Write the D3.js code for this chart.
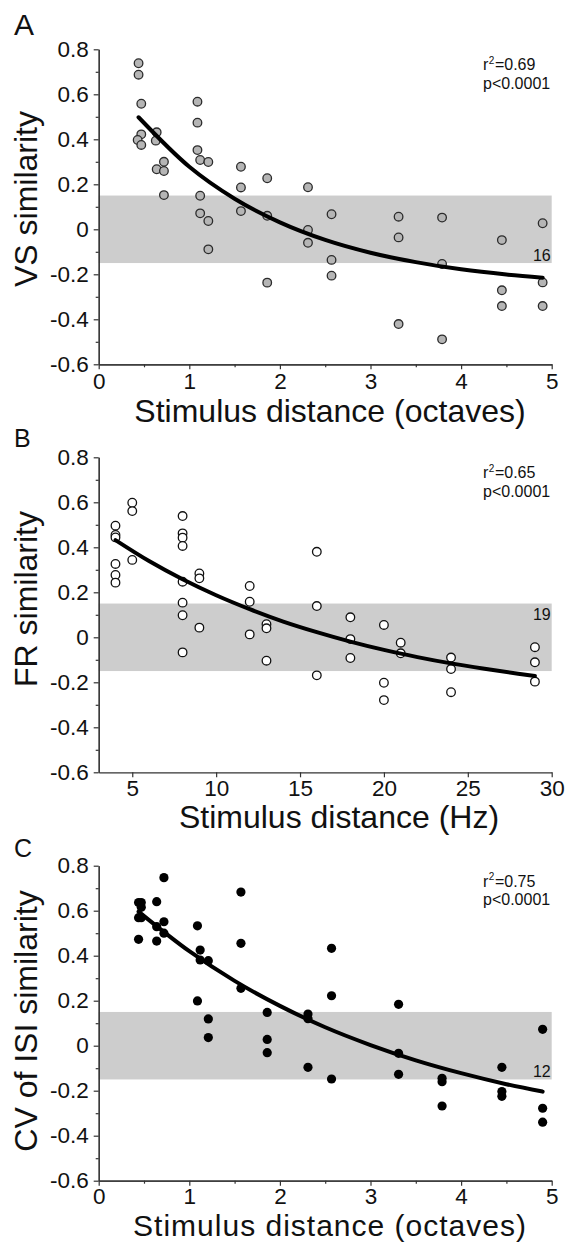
<!DOCTYPE html>
<html>
<head>
<meta charset="utf-8">
<script src="https://cdn.jsdelivr.net/npm/d3@7"></script>
<style>
html, body { margin: 0; padding: 0; background: #fff; }
svg { display: block; font-family: "Liberation Sans", Arial, sans-serif; }
</style>
</head>
<body>
<div id="chart"></div>
<script>
(function () {
'use strict';

// ---- data ----
// Panel A: VS similarity vs stimulus distance (octaves)
const aX = [0.44,0.44,0.47,0.47,0.43,0.47,0.64,0.63,0.72,0.64,0.72,0.72,
            1.09,1.09,1.09,1.12,1.21,1.12,1.12,1.21,1.21,
            1.57,1.57,1.57,1.86,1.86,1.86,2.31,2.31,2.31,2.57,2.57,2.57,
            3.31,3.31,3.31,3.79,3.79,3.79,4.45,4.45,4.45,4.9,4.9,4.9];
const aY = [0.738,0.687,0.558,0.422,0.397,0.375,0.431,0.394,0.300,0.267,0.259,0.152,
            0.567,0.474,0.352,0.308,0.299,0.149,0.071,0.037,-0.089,
            0.278,0.186,0.081,0.227,0.060,-0.237,0.187,-0.003,-0.060,0.067,-0.136,-0.206,
            0.056,-0.036,-0.421,0.052,-0.154,-0.489,-0.048,-0.271,-0.341,0.027,-0.236,-0.341];
const aFitX = [0.44, 1.0, 1.5, 2.0, 2.5, 3.0, 3.5, 4.0, 4.5, 4.9];
const aFitY = [0.498, 0.278, 0.136, 0.031, -0.047, -0.104, -0.146, -0.178, -0.201, -0.215];

// Panel B: FR similarity vs stimulus distance (Hz)
const bX = [4,4,4,4,4,4, 5,5,5, 8,8,8,8,8,8,8,8, 9,9,9, 12,12,12, 13,13,13,
            16,16,16, 18,18,18, 20,20,20, 21,21, 24,24,24, 29,29,29];
const bY = [0.496,0.455,0.444,0.326,0.277,0.243, 0.598,0.561,0.344,
            0.539,0.462,0.443,0.406,0.247,0.154,0.098,-0.067,
            0.284,0.262,0.043, 0.228,0.158,0.013, 0.058,0.040,-0.104,
            0.380,0.139,-0.169, 0.089,-0.008,-0.092, 0.055,-0.202,-0.279,
            -0.024,-0.071, -0.090,-0.141,-0.244, -0.044,-0.111,-0.197];
const bFitX = [4, 6, 8, 10, 12, 14, 16, 18, 20, 22, 24, 26, 28, 29];
const bFitY = [0.432, 0.339, 0.258, 0.187, 0.125, 0.070, 0.023, -0.019, -0.056, -0.088, -0.116, -0.140, -0.162, -0.172];

// Panel C: CV of ISI similarity vs stimulus distance (octaves)
const cX = [0.44,0.44,0.44, 0.47,0.47,0.47, 0.64,0.64,0.64, 0.72,0.72,0.72,
            1.09,1.09, 1.12,1.12, 1.21,1.21,1.21, 1.57,1.57,1.57, 1.86,1.86,1.86,
            2.31,2.31,2.31, 2.57,2.57,2.57, 3.31,3.31,3.31, 3.79,3.79,3.79,
            4.45,4.45,4.45, 4.9,4.9,4.9];
const cY = [0.636,0.569,0.473, 0.636,0.615,0.569, 0.640,0.529,0.465, 0.747,0.551,0.500,
            0.533,0.199, 0.425,0.381, 0.378,0.119,0.036, 0.683,0.455,0.255, 0.148,0.028,-0.031,
            0.141,0.120,-0.096, 0.433,0.222,-0.148, 0.184,-0.034,-0.127, -0.145,-0.160,-0.268,
            -0.096,-0.204,-0.225, 0.073,-0.278,-0.340];
const cFitX = [0.44, 1.0, 1.5, 2.0, 2.5, 3.0, 3.5, 4.0, 4.5, 4.9];
const cFitY = [0.596, 0.420, 0.288, 0.177, 0.082, 0.003, -0.065, -0.122, -0.171, -0.204];

// ticks
const yTickVals = [-0.6, -0.4, -0.2, 0, 0.2, 0.4, 0.6, 0.8];
const yTickLabels = ["-0.6", "-0.4", "-0.2", "0", "0.2", "0.4", "0.6", "0.8"];
const yMinorVals = [-0.5, -0.3, -0.1, 0.1, 0.3, 0.5, 0.7];
const octTicks = [0, 1, 2, 3, 4, 5];
const octMinor = [0.5, 1.5, 2.5, 3.5, 4.5];
const hzTicks = [5, 10, 15, 20, 25, 30];
const bandLimits = [-0.15, 0.15];

const panels = [
  { letter: "A", top: 49.3, letterY: 35, letterSize: 30,
    xDomain: [0, 5], xTicks: octTicks, xMinor: octMinor, xPad: 4,
    xs: aX, ys: aY, fx: aFitX, fy: aFitY, kind: "gray",
    yTitle: "VS similarity", yTitleY: 199,
    xTitle: "Stimulus distance (octaves)", xTitleX: 330, xTitleDy: 58, xTitleSize: 32, xTitleLs: 0,
    r2: "0.69", n: "16", nAtTop: false },
  { letter: "B", top: 457.3, letterY: 447, letterSize: 25,
    xDomain: [3, 30], xTicks: hzTicks, xMinor: [], xPad: 3,
    xs: bX, ys: bY, fx: bFitX, fy: bFitY, kind: "open",
    yTitle: "FR similarity", yTitleY: 599,
    xTitle: "Stimulus distance (Hz)", xTitleX: 339, xTitleDy: 56, xTitleSize: 32, xTitleLs: 0,
    r2: "0.65", n: "19", nAtTop: true },
  { letter: "C", top: 865.7, letterY: 857, letterSize: 25,
    xDomain: [0, 5], xTicks: octTicks, xMinor: octMinor, xPad: 2,
    xs: cX, ys: cY, fx: cFitX, fy: cFitY, kind: "filled",
    yTitle: "CV of ISI similarity", yTitleY: 1021,
    xTitle: "Stimulus distance (octaves)", xTitleX: 330, xTitleDy: 55, xTitleSize: 30, xTitleLs: 1,
    r2: "0.75", n: "12", nAtTop: false }
];

const width = 568, height = 1243;
const plotLeft = 98.7, plotRight = 551.7, plotH = 315;
const AXIS_COLOR = "#333";
const TEXT_COLOR = "#111";
const BAND_COLOR = "#cdcdcd";

const svg = d3.select("#chart").append("svg")
  .attr("width", width).attr("height", height)
  .attr("viewBox", `0 0 ${width} ${height}`);

svg.append("rect").attr("width", width).attr("height", height).attr("fill", "#fff");

function styleAxis(sel) {
  sel.attr("font-family", null).attr("font-size", null);
  sel.select(".domain").attr("stroke", AXIS_COLOR).attr("stroke-width", 1.2);
  sel.selectAll(".tick line").attr("stroke", AXIS_COLOR).attr("stroke-width", 1.2);
  sel.selectAll(".tick text").attr("fill", TEXT_COLOR).style("font-size", "22.5px");
}

panels.forEach(p => {
  const x = d3.scaleLinear().domain(p.xDomain).range([plotLeft, plotRight]);
  const y = d3.scaleLinear().domain([-0.6, 0.8]).range([p.top + plotH, p.top]);
  const g = svg.append("g");

  // grey band (+/-0.15)
  g.append("rect")
    .attr("x", x(p.xDomain[0]))
    .attr("width", x(p.xDomain[1]) - x(p.xDomain[0]))
    .attr("y", y(bandLimits[1]))
    .attr("height", y(bandLimits[0]) - y(bandLimits[1]))
    .attr("fill", BAND_COLOR);

  // y axis: minor then major
  g.append("g").attr("transform", `translate(${plotLeft},0)`)
    .call(d3.axisLeft(y).tickValues(yMinorVals).tickFormat("").tickSize(3).tickSizeOuter(0))
    .call(styleAxis);
  g.append("g").attr("transform", `translate(${plotLeft},0)`)
    .call(d3.axisLeft(y).tickValues(yTickVals)
      .tickFormat((d, i) => yTickLabels[i]).tickSize(5).tickPadding(5).tickSizeOuter(0))
    .call(styleAxis);

  // x axis
  const xBase = p.top + plotH;
  if (p.xMinor.length) {
    g.append("g").attr("transform", `translate(0,${xBase})`)
      .call(d3.axisBottom(x).tickValues(p.xMinor).tickFormat("").tickSize(3).tickSizeOuter(0))
      .call(styleAxis);
  }
  g.append("g").attr("transform", `translate(0,${xBase})`)
    .call(d3.axisBottom(x).tickValues(p.xTicks).tickFormat(d3.format("d"))
      .tickSize(5).tickPadding(p.xPad).tickSizeOuter(0))
    .call(styleAxis);

  // points
  const pts = p.xs.map((v, i) => ({ x: v, y: p.ys[i] }));
  const dots = g.append("g").selectAll("circle").data(pts).join("circle")
    .attr("cx", d => x(d.x))
    .attr("cy", d => y(d.y))
    .attr("r", p.kind === "filled" ? 4.6 : 4.3);
  if (p.kind === "gray") {
    dots.attr("fill", "#b5b5b5").attr("stroke", "#2b2b2b").attr("stroke-width", 1.3);
  } else if (p.kind === "open") {
    dots.attr("fill", "#fff").attr("stroke", "#111").attr("stroke-width", 1.3);
  } else {
    dots.attr("fill", "#000").attr("stroke", "none");
  }

  // fitted curve
  const fit = p.fx.map((v, i) => ({ x: v, y: p.fy[i] }));
  g.append("path").datum(fit)
    .attr("fill", "none").attr("stroke", "#000").attr("stroke-width", 4)
    .attr("stroke-linecap", "round")
    .attr("d", d3.line().x(d => x(d.x)).y(d => y(d.y)).curve(d3.curveMonotoneX));

  // n label near band edge
  g.append("text")
    .attr("x", plotRight - 1)
    .attr("y", p.nAtTop ? y(bandLimits[1]) + 16 : y(bandLimits[0]) - 2)
    .attr("text-anchor", "end")
    .attr("fill", TEXT_COLOR).style("font-size", "16px")
    .text(p.n);

  // r^2 / p text, built from separate pieces so the superscript sits right
  const sx = 483, sy = p.top + 21;
  const r = g.append("text").attr("x", sx).attr("y", sy)
    .attr("fill", TEXT_COLOR).style("font-size", "16px").text("r");
  const rw = r.node().getComputedTextLength();
  const sup = g.append("text").attr("x", sx + rw + 0.5).attr("y", sy - 6.5)
    .attr("fill", TEXT_COLOR).style("font-size", "10px").text("2");
  const sw = sup.node().getComputedTextLength();
  g.append("text").attr("x", sx + rw + sw + 1).attr("y", sy)
    .attr("fill", TEXT_COLOR).style("font-size", "16px").text("=" + p.r2);
  g.append("text").attr("x", sx).attr("y", sy + 18.5)
    .attr("fill", TEXT_COLOR).style("font-size", "16px").text("p<0.0001");

  // panel letter
  g.append("text").attr("x", 14).attr("y", p.letterY)
    .attr("fill", TEXT_COLOR).style("font-size", p.letterSize + "px").text(p.letter);

  // axis titles
  g.append("text")
    .attr("transform", `translate(37,${p.yTitleY}) rotate(-90)`)
    .attr("text-anchor", "middle")
    .attr("fill", TEXT_COLOR).style("font-size", "32px")
    .text(p.yTitle);
  g.append("text")
    .attr("x", p.xTitleX).attr("y", xBase + p.xTitleDy)
    .attr("text-anchor", "middle")
    .attr("fill", TEXT_COLOR).style("font-size", p.xTitleSize + "px")
    .style("letter-spacing", p.xTitleLs + "px")
    .text(p.xTitle);
});
})();
</script>
</body>
</html>
